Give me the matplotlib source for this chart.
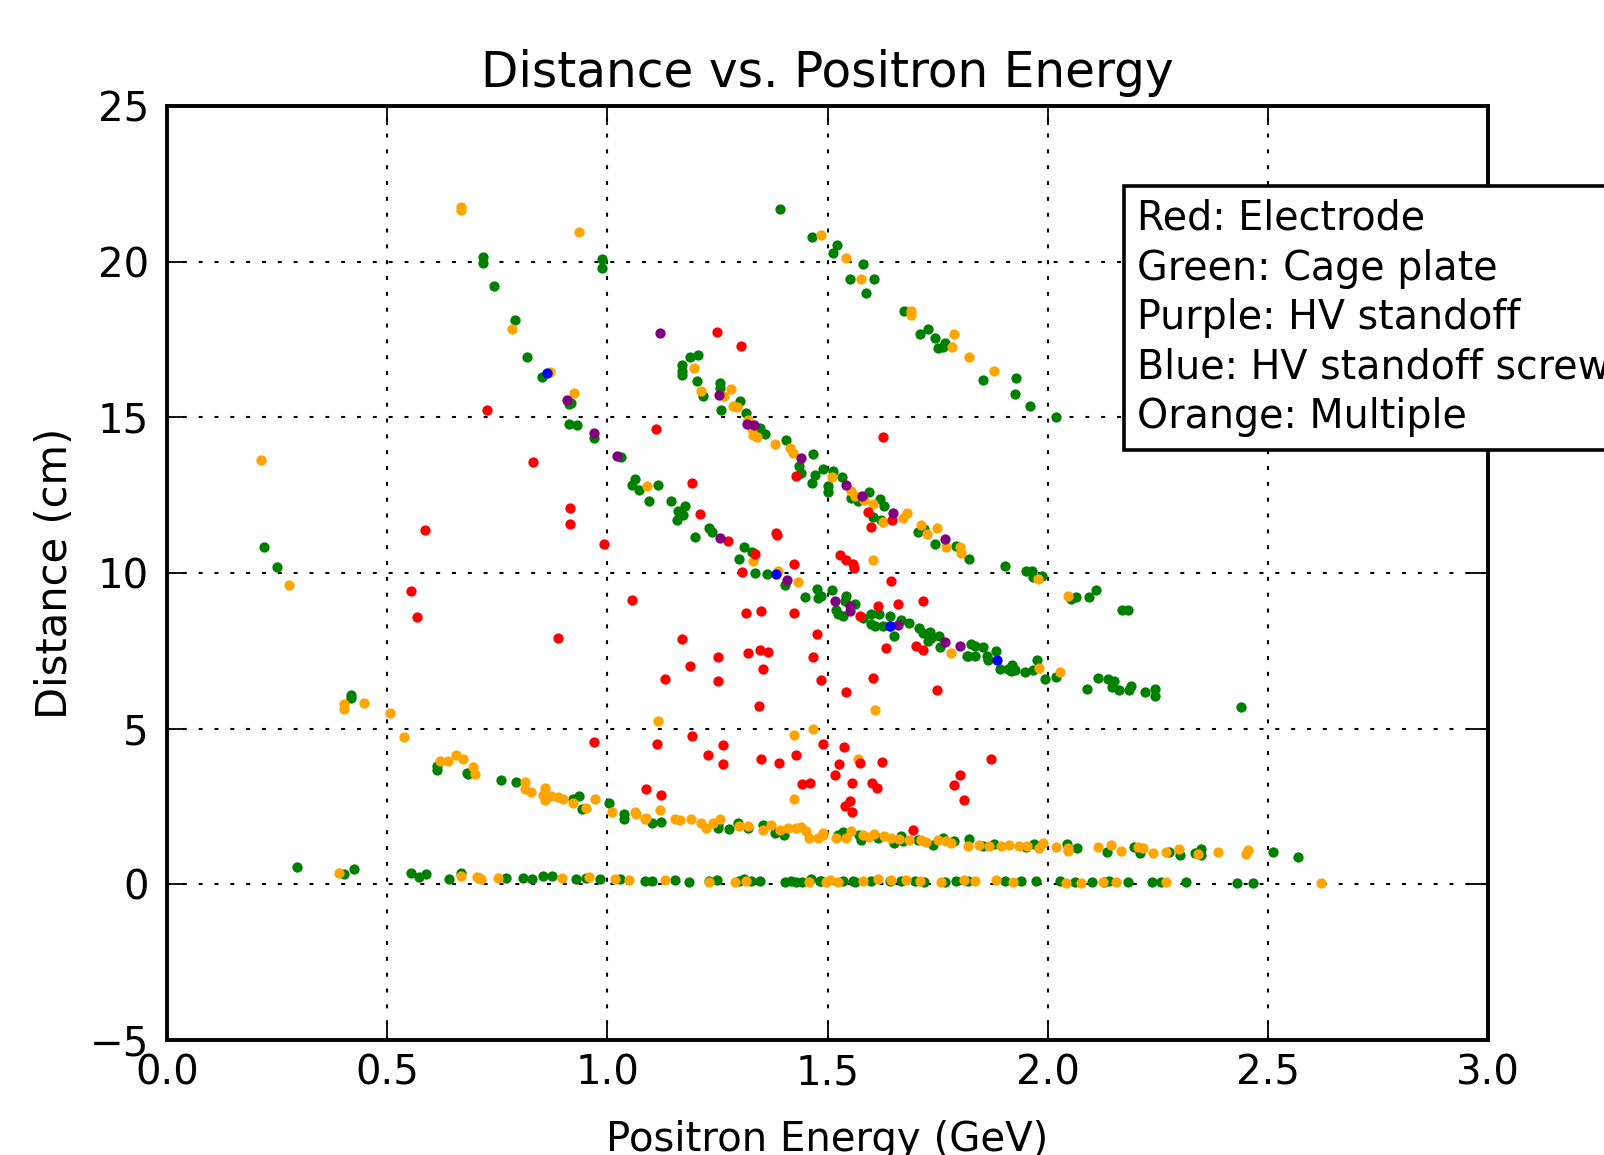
import matplotlib
matplotlib.use('Agg')
import matplotlib.pyplot as plt

# Dados (energia do pósitron em GeV, distância em cm)
red_x = [0.727, 0.831, 0.915, 0.915, 0.992, 1.111, 1.250, 1.303, 1.627, 1.192, 1.210, 1.274, 1.335,
         1.306, 1.384, 1.385, 1.425, 1.429, 1.592, 1.598, 1.646, 1.529, 1.541, 1.558, 1.561, 1.644,
         1.614, 1.661, 1.718, 1.573, 1.633, 1.701, 1.718, 1.749, 0.587, 0.553, 0.568, 0.888, 1.056,
         1.316, 1.348, 1.425, 1.477, 1.170, 1.319, 1.347, 1.366, 1.251, 1.468, 1.187, 1.354, 1.130,
         1.252, 1.486, 1.603, 1.542, 1.344, 0.970, 1.113, 1.193, 1.263, 1.490, 1.537, 1.229, 1.263,
         1.350, 1.389, 1.429, 1.526, 1.573, 1.624, 1.441, 1.461, 1.088, 1.121, 1.516, 1.556, 1.601,
         1.612, 1.550, 1.539, 1.555, 1.871, 1.802, 1.787, 1.809, 1.694]
red_y = [15.24, 13.56, 12.10, 11.58, 10.93, 14.63, 17.75, 17.29, 14.38, 12.89, 11.89, 11.04, 10.62,
         10.03, 11.28, 11.23, 10.30, 13.10, 11.97, 11.48, 11.69, 10.59, 10.43, 10.29, 10.16, 9.75,
         8.95, 9.01, 9.11, 8.61, 7.59, 7.67, 7.54, 6.23, 11.39, 9.41, 8.60, 7.91, 9.14,
         8.71, 8.79, 8.71, 8.03, 7.88, 7.43, 7.54, 7.45, 7.29, 7.30, 7.00, 6.93, 6.58,
         6.52, 6.55, 6.63, 6.17, 5.72, 4.57, 4.52, 4.76, 4.49, 4.52, 4.42, 4.15, 3.88,
         4.01, 3.90, 4.14, 3.85, 3.90, 3.93, 3.21, 3.24, 3.05, 2.86, 3.50, 3.24, 3.26,
         3.08, 2.67, 2.51, 2.33, 4.04, 3.51, 3.19, 2.71, 1.73]

green_x = [
    # faixa superior
    1.393, 1.465, 1.522, 1.512, 1.580, 1.552, 1.605, 1.587, 1.673, 1.709, 1.728, 1.743, 1.751, 1.762,
    1.766, 1.854, 1.928, 1.925, 1.959, 2.018,
    # faixa do meio
    1.188, 1.207, 1.170, 1.170, 1.170, 1.204, 1.217, 1.256, 1.256, 1.258, 1.302, 1.314, 1.346, 1.359,
    1.406, 1.467, 1.435, 1.439, 1.490, 1.512, 1.472, 1.533, 1.465, 1.501, 1.501, 1.553, 1.569, 1.594,
    1.619, 1.628, 1.603, 1.622, 1.705, 1.719, 1.745, 1.792, 1.822, 1.902, 1.950, 1.965, 1.966, 1.986,
    2.052, 2.065, 2.093, 2.110, 2.169, 2.183,
    # faixa inferior
    0.221, 0.249, 0.718, 0.718, 0.743, 0.791, 0.818, 0.852, 0.913, 0.918, 0.913, 0.931, 0.989, 0.989,
    0.969, 1.031, 1.062, 1.057, 1.071, 1.115, 1.094, 1.145, 1.160, 1.176, 1.172, 1.158, 1.198, 1.231,
    1.238, 1.311, 1.328, 1.299, 1.335, 1.363, 1.404, 1.449, 1.476, 1.478, 1.486, 1.510, 1.541, 1.539,
    1.520, 1.524, 1.535, 1.563, 1.580, 1.599, 1.616, 1.598, 1.609, 1.626, 1.641, 1.641, 1.650, 1.666,
    1.686, 1.707, 1.718, 1.732, 1.734, 1.754, 1.756, 1.728, 1.817, 1.826, 1.836, 1.854, 1.819, 1.834,
    1.862, 1.864, 1.883, 1.891, 1.911, 1.919, 1.925, 1.917, 1.949, 1.966, 1.975, 1.995, 2.018, 2.089,
    2.114, 2.138, 2.151, 2.146, 2.161, 2.184, 2.189, 2.222, 2.244, 2.244, 2.439,
    0.419, 0.419,
    # faixa 1-4 cm
    0.614, 0.614, 0.682, 0.683, 0.759, 0.792, 0.921, 0.936, 0.943, 1.004, 1.038, 1.038, 1.102, 1.121,
    1.251, 1.251, 1.277, 1.296, 1.319, 1.353, 1.380, 1.402, 1.524, 1.535, 1.572, 1.577, 1.614, 1.652,
    1.667, 1.671, 1.705, 1.739, 1.762, 1.788, 1.822, 1.853, 1.879, 1.951, 1.970, 2.043, 2.067, 2.134,
    2.197, 2.210, 2.275, 2.301, 2.335, 2.348, 2.348, 2.511, 2.568,
    # faixa zero
    0.295, 0.402, 0.425, 0.553, 0.572, 0.589, 0.640, 0.667, 0.708, 0.771, 0.809, 0.830, 0.854, 0.875,
    0.928, 0.952, 0.983, 1.029, 1.085, 1.102, 1.153, 1.185, 1.232, 1.250, 1.300, 1.310, 1.327, 1.346,
    1.403, 1.416, 1.429, 1.443, 1.463, 1.482, 1.486, 1.535, 1.558, 1.562, 1.599, 1.641, 1.667, 1.698,
    1.720, 1.766, 1.792, 1.818, 1.902, 1.940, 1.974, 2.027, 2.061, 2.101, 2.129, 2.140, 2.182, 2.238,
    2.257, 2.314, 2.431, 2.466]
green_y = [
    21.70, 20.78, 20.52, 20.27, 19.92, 19.43, 19.43, 18.98, 18.43, 17.68, 17.83, 17.55, 17.22, 17.27,
    17.39, 16.20, 16.25, 15.75, 15.35, 15.00,
    16.95, 17.00, 16.68, 16.50, 16.36, 16.18, 15.70, 16.09, 15.93, 15.22, 15.52, 15.13, 14.65, 14.47,
    14.28, 13.82, 13.45, 13.21, 13.35, 13.28, 13.15, 13.08, 12.89, 12.78, 12.59, 12.41, 12.30, 12.59,
    12.37, 12.16, 11.79, 11.71, 11.33, 11.41, 10.94, 10.88, 10.45, 10.23, 10.08, 10.08, 9.87, 9.89,
    9.17, 9.22, 9.23, 9.44, 8.80, 8.80,
    10.82, 10.19, 20.14, 19.95, 19.22, 18.13, 16.95, 16.28, 15.43, 15.45, 14.78, 14.74, 20.10, 19.80,
    14.33, 13.72, 13.03, 12.83, 12.67, 12.83, 12.32, 12.30, 11.98, 12.16, 11.87, 11.69, 11.17, 11.44,
    11.33, 10.85, 10.69, 10.46, 10.00, 9.98, 9.62, 9.23, 9.50, 9.20, 9.25, 9.44, 9.25, 9.09,
    8.82, 8.68, 8.61, 9.00, 8.56, 8.69, 8.69, 8.37, 8.31, 8.31, 8.63, 8.31, 7.99, 8.50,
    8.40, 8.24, 8.07, 8.09, 7.91, 7.97, 7.61, 7.81, 7.35, 7.73, 7.65, 7.62, 7.32, 7.32,
    7.32, 7.20, 7.49, 6.93, 6.92, 7.03, 6.90, 6.84, 6.82, 6.88, 7.20, 6.58, 6.66, 6.28,
    6.63, 6.60, 6.54, 6.34, 6.23, 6.23, 6.36, 6.17, 6.28, 6.04, 5.70,
    6.07, 5.98,
    3.79, 3.67, 3.58, 3.53, 3.35, 3.29, 2.73, 2.83, 2.43, 2.62, 2.25, 2.11, 1.98, 2.00,
    1.92, 1.82, 1.79, 1.98, 1.82, 1.92, 1.66, 1.57, 1.60, 1.68, 1.60, 1.42, 1.50, 1.34,
    1.55, 1.39, 1.44, 1.25, 1.50, 1.39, 1.47, 1.23, 1.28, 1.19, 1.30, 1.28, 1.18, 1.04,
    1.21, 1.02, 1.04, 0.93, 1.02, 1.15, 0.93, 1.04, 0.89,
    0.55, 0.33, 0.49, 0.35, 0.23, 0.34, 0.18, 0.35, 0.21, 0.21, 0.21, 0.16, 0.27, 0.27,
    0.16, 0.21, 0.18, 0.16, 0.11, 0.11, 0.13, 0.09, 0.11, 0.14, 0.11, 0.16, 0.11, 0.11,
    0.09, 0.11, 0.09, 0.09, 0.16, 0.11, 0.10, 0.12, 0.10, 0.08, 0.10, 0.10, 0.12, 0.12,
    0.08, 0.08, 0.10, 0.12, 0.10, 0.10, 0.10, 0.10, 0.08, 0.06, 0.08, 0.10, 0.08, 0.08,
    0.08, 0.07, 0.03, 0.05]

orange_x = [
    1.486, 1.542, 1.577, 1.690, 1.690, 1.787, 1.782, 1.822, 1.879,
    1.197, 1.212, 1.264, 1.281, 1.285, 1.295, 1.319, 1.329, 1.330, 1.340, 1.381, 1.414, 1.421, 1.511,
    1.553, 1.563, 1.582, 1.603, 1.626, 1.671, 1.681, 1.713, 1.726, 1.749, 1.770, 1.801, 1.803, 1.977,
    2.046, 1.603,
    0.667, 0.667, 0.784, 0.869, 0.935, 0.924, 1.090, 1.331, 1.387, 1.434, 1.781, 1.980, 2.029, 0.213,
    0.277,
    1.608, 1.115, 1.468, 1.425, 1.569, 1.425,
    0.402, 0.402, 0.447, 0.506, 0.539,
    0.620, 0.639, 0.656, 0.673, 0.694, 0.699, 0.814, 0.814, 0.827, 0.859, 0.854, 0.859, 0.873, 0.888,
    0.899, 0.922, 0.951, 0.971, 1.011, 1.062, 1.066, 1.088, 1.086, 1.119, 1.153, 1.164, 1.191, 1.213,
    1.223, 1.240, 1.255, 1.300, 1.320, 1.353, 1.372, 1.391, 1.410, 1.429, 1.440, 1.451, 1.459, 1.478,
    1.490, 1.490, 1.520, 1.542, 1.553, 1.580, 1.595, 1.606, 1.629, 1.644, 1.663, 1.686, 1.713, 1.724,
    1.750, 1.769, 1.780, 1.818, 1.845, 1.867, 1.894, 1.913, 1.935, 1.954, 1.981, 1.990, 2.019, 2.046,
    2.046, 2.114, 2.144, 2.167, 2.205, 2.216, 2.239, 2.269, 2.299, 2.341, 2.386, 2.450, 2.456,
    0.391, 0.667, 0.703, 0.713, 0.752, 0.898, 0.958, 1.018, 1.049, 1.131, 1.232, 1.291, 1.316, 1.459,
    1.497, 1.505, 1.524, 1.580, 1.614, 1.645, 1.679, 1.709, 1.758, 1.811, 1.834, 1.883, 1.921, 2.042,
    2.076, 2.125, 2.155, 2.269, 2.621]
orange_y = [
    20.85, 20.13, 19.43, 18.43, 18.29, 17.68, 17.25, 16.93, 16.50,
    16.59, 15.83, 15.67, 15.91, 15.35, 15.33, 14.90, 14.63, 14.44, 14.36, 14.14, 14.03, 13.85, 13.08,
    12.62, 12.46, 12.35, 12.21, 11.63, 11.76, 11.94, 11.55, 11.25, 11.44, 10.82, 10.85, 10.64, 9.81,
    9.27, 10.43,
    21.76, 21.66, 17.83, 16.45, 20.96, 15.77, 12.78, 10.39, 10.08, 9.70, 7.43, 6.95, 6.81, 13.63,
    9.60,
    5.61, 5.24, 4.99, 4.79, 4.01, 2.73,
    5.78, 5.64, 5.81, 5.51, 4.73,
    3.96, 3.96, 4.17, 4.01, 3.78, 3.53, 3.28, 3.05, 2.96, 3.10, 2.86, 2.70, 2.83, 2.80,
    2.73, 2.62, 2.46, 2.73, 2.32, 2.32, 2.25, 2.14, 2.09, 2.38, 2.10, 2.06, 2.09, 1.98,
    1.82, 1.98, 2.09, 1.87, 1.87, 1.76, 1.92, 1.76, 1.82, 1.82, 1.85, 1.71, 1.50, 1.50,
    1.66, 1.60, 1.50, 1.50, 1.71, 1.60, 1.53, 1.63, 1.55, 1.48, 1.47, 1.44, 1.44, 1.36,
    1.44, 1.39, 1.32, 1.23, 1.25, 1.23, 1.23, 1.25, 1.23, 1.23, 1.18, 1.34, 1.21, 1.18,
    1.07, 1.19, 1.25, 1.07, 1.21, 1.18, 1.02, 1.04, 1.15, 0.96, 1.04, 0.96, 1.10,
    0.37, 0.27, 0.25, 0.18, 0.21, 0.21, 0.25, 0.18, 0.14, 0.14, 0.09, 0.09, 0.11, 0.09,
    0.09, 0.14, 0.08, 0.11, 0.16, 0.13, 0.14, 0.11, 0.09, 0.14, 0.11, 0.14, 0.09, 0.05,
    0.05, 0.09, 0.09, 0.09, 0.05]

purple_x = [1.119, 1.254, 1.317, 1.334, 1.439, 1.542, 1.578, 1.649, 1.766, 0.908, 0.969, 1.023,
            1.256, 1.408, 1.516, 1.550, 1.552, 1.660, 1.766, 1.801]
purple_y = [17.70, 15.72, 14.79, 14.76, 13.69, 12.83, 12.46, 11.94, 11.09, 15.56, 14.51, 13.76,
            11.14, 9.78, 9.09, 8.95, 8.79, 8.34, 7.77, 7.65]

blue_x = [0.864, 1.382, 1.642, 1.885]
blue_y = [16.42, 9.98, 8.31, 7.22]

legenda = ('Red: Electrode\nGreen: Cage plate\nPurple: HV standoff\n'
           'Blue: HV standoff screw\nOrange: Multiple')

fig = plt.figure(figsize=(16.04, 11.55), dpi=100)
ax = fig.add_axes([167/1604, 115/1155, 1321/1604, 934/1155])
ax.set_axisbelow(True)

tam = 55
ax.scatter(green_x, green_y, s=tam, c='green', linewidths=0)
ax.scatter(orange_x, orange_y, s=tam, c='orange', linewidths=0)
ax.scatter(red_x, red_y, s=tam, c='red', linewidths=0)
ax.scatter(purple_x, purple_y, s=tam, c='purple', linewidths=0)
ax.scatter(blue_x, blue_y, s=tam, c='blue', linewidths=0)

ax.set_xlim(0, 3)
ax.set_ylim(-5, 25)
ax.set_xticks([0.0, 0.5, 1.0, 1.5, 2.0, 2.5, 3.0])
ax.set_yticks([-5, 0, 5, 10, 15, 20, 25])
ax.set_xticklabels(['0.0', '0.5', '1.0', '1.5', '2.0', '2.5', '3.0'])
ax.grid(True, color='black', linestyle=(0, (1.9, 5.7)), linewidth=1.5)
ax.tick_params(direction='in', length=14, width=1.3, top=True, right=True, labelsize=29)
ax.tick_params(axis='x', pad=10)
ax.tick_params(axis='y', pad=13)
for sp in ax.spines.values():
    sp.set_linewidth(2.8)

ax.set_title('Distance vs. Positron Energy', fontsize=35, pad=14)
ax.set_xlabel('Positron Energy (GeV)', fontsize=29)
ax.set_ylabel('Distance (cm)', fontsize=30)
ax.xaxis.set_label_coords(0.5, -0.086)
ax.yaxis.set_label_coords(-0.069, 0.5)

# caixa de legenda em texto (sai pela direita da figura)
ax.text(0.7343, 0.9005, legenda, transform=ax.transAxes, ha='left', va='top',
        fontsize=28.5, linespacing=1.31,
        bbox=dict(boxstyle='square,pad=0.32', facecolor='white', edgecolor='black', linewidth=2.6))

fig.savefig('out.png', dpi=100, facecolor='white')
